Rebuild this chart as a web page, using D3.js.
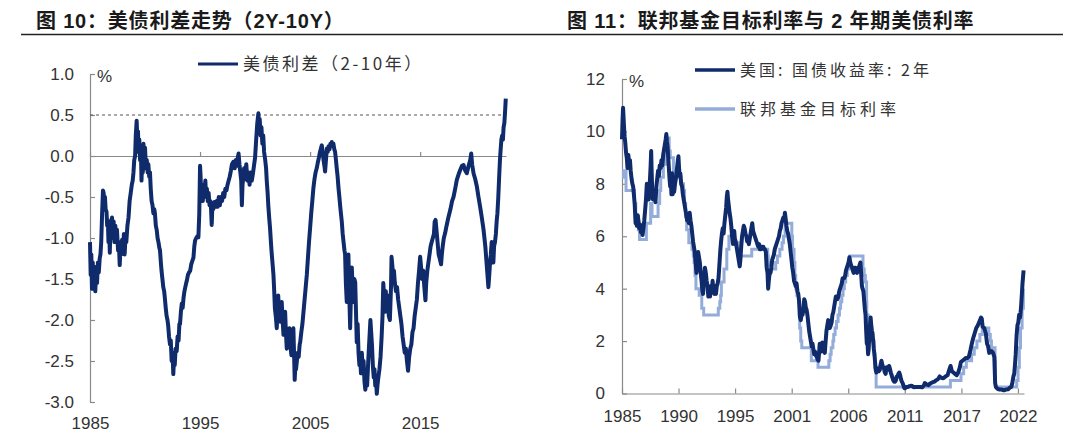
<!DOCTYPE html>
<html>
<head>
<meta charset="utf-8">
<script src="https://cdn.jsdelivr.net/npm/d3@7"></script>
<style>
  body { margin: 0; background: #fff; }
  text { font-family: "Liberation Sans", Arial, "Noto Sans CJK SC", sans-serif; }
</style>
</head>
<body>
<div id="chart"></div>
<script>
// ---- data ----
const leftTitle = "图 10：美债利差走势（2Y-10Y）";
const rightTitle = "图 11：联邦基金目标利率与 2 年期美债利率";
const spreadName = "美债利差（2-10年）";
const yieldName = "美国: 国债收益率: 2年";
const fedName = "联邦基金目标利率";

const leftYTicks = [-3.0, -2.5, -2.0, -1.5, -1.0, -0.5, 0.0, 0.5, 1.0];
const leftXTicks = [1985, 1995, 2005, 2015];
const rightYTicks = [0, 2, 4, 6, 8, 10, 12];
const rightXTickYears = [1985, 1990.33, 1995.66, 2001, 2006.33, 2011.66, 2017, 2022.33];
const rightXTickLabels = ["1985", "1990", "1995", "2001", "2006", "2011", "2017", "2022"];

// 2Y minus 10Y spread, [year, %]
const spread = [
  [1985.00,-1.05],[1985.06,-1.45],[1985.12,-1.20],[1985.18,-1.62],[1985.25,-1.30],[1985.32,-1.58],
  [1985.40,-1.35],[1985.48,-1.65],[1985.56,-1.40],[1985.64,-1.55],[1985.72,-1.30],[1985.80,-1.42],
  [1985.88,-1.25],[1985.95,-1.20],[1986.02,-1.05],[1986.10,-0.70],[1986.18,-0.42],[1986.24,-0.45],
  [1986.30,-0.55],[1986.36,-0.50],[1986.42,-0.65],[1986.50,-0.68],[1986.56,-0.85],[1986.62,-0.78],
  [1986.68,-1.05],[1986.74,-0.85],[1986.80,-1.18],[1986.86,-0.85],[1986.92,-0.95],[1987.00,-0.75],
  [1987.08,-1.00],[1987.15,-0.80],[1987.22,-1.05],[1987.30,-0.85],[1987.38,-1.00],[1987.45,-0.90],
  [1987.55,-1.15],[1987.62,-1.05],[1987.70,-1.33],[1987.78,-1.10],[1987.85,-1.20],[1987.92,-1.02],
  [1988.00,-1.15],[1988.08,-0.95],[1988.15,-1.20],[1988.22,-1.00],[1988.30,-1.05],[1988.40,-0.85],
  [1988.50,-0.75],[1988.60,-0.55],[1988.70,-0.45],[1988.80,-0.35],[1988.88,-0.30],[1988.95,-0.20],
  [1989.02,-0.05],[1989.10,0.00],[1989.16,0.25],[1989.24,0.43],[1989.30,0.20],[1989.36,0.30],
  [1989.42,0.05],[1989.48,0.20],[1989.55,-0.05],[1989.62,0.12],[1989.68,-0.30],[1989.74,0.00],
  [1989.80,-0.20],[1989.86,0.15],[1989.92,-0.10],[1990.00,0.10],[1990.08,-0.15],[1990.16,-0.05],
  [1990.24,-0.20],[1990.30,-0.10],[1990.38,-0.25],[1990.45,-0.20],[1990.52,-0.40],[1990.60,-0.55],
  [1990.68,-0.60],[1990.76,-0.70],[1990.84,-0.65],[1990.90,-0.70],[1990.98,-0.85],[1991.06,-0.90],
  [1991.14,-1.00],[1991.22,-1.05],[1991.30,-1.12],[1991.36,-1.15],[1991.44,-1.30],[1991.50,-1.40],
  [1991.58,-1.50],[1991.66,-1.60],[1991.74,-1.65],[1991.80,-1.73],[1991.88,-1.85],[1991.96,-1.95],
  [1992.04,-2.00],[1992.10,-2.06],[1992.18,-2.20],[1992.27,-2.30],[1992.34,-2.25],[1992.42,-2.50],
  [1992.50,-2.40],[1992.57,-2.66],[1992.64,-2.45],[1992.70,-2.55],[1992.78,-2.35],[1992.88,-2.38],
  [1992.96,-2.20],[1993.05,-2.25],[1993.12,-2.05],[1993.18,-2.05],[1993.26,-1.90],[1993.34,-1.80],
  [1993.42,-1.85],[1993.50,-1.73],[1993.58,-1.65],[1993.66,-1.60],[1993.74,-1.55],[1993.80,-1.52],
  [1993.90,-1.45],[1994.00,-1.42],[1994.10,-1.40],[1994.20,-1.32],[1994.30,-1.28],[1994.40,-1.24],
  [1994.48,-1.10],[1994.55,-1.03],[1994.65,-1.00],[1994.75,-0.98],[1994.85,-0.99],[1994.93,-0.70],
  [1995.00,-0.12],[1995.05,-0.25],[1995.10,-0.50],[1995.18,-0.40],[1995.25,-0.55],[1995.32,-0.35],
  [1995.40,-0.45],[1995.48,-0.30],[1995.55,-0.50],[1995.62,-0.40],[1995.70,-0.55],[1995.78,-0.45],
  [1995.86,-0.60],[1995.94,-0.55],[1996.00,-0.65],[1996.06,-0.84],[1996.12,-0.60],[1996.20,-0.65],
  [1996.30,-0.56],[1996.40,-0.62],[1996.50,-0.55],[1996.60,-0.62],[1996.70,-0.50],[1996.80,-0.60],
  [1996.90,-0.50],[1997.00,-0.55],[1997.10,-0.45],[1997.20,-0.50],[1997.30,-0.40],[1997.40,-0.42],
  [1997.50,-0.35],[1997.60,-0.30],[1997.70,-0.25],[1997.80,-0.18],[1997.90,-0.10],[1998.03,-0.07],
  [1998.15,-0.15],[1998.25,-0.05],[1998.35,-0.12],[1998.43,-0.02],[1998.50,0.03],[1998.58,-0.10],
  [1998.66,-0.20],[1998.74,-0.30],[1998.80,-0.60],[1998.86,-0.35],[1998.94,-0.25],[1999.00,-0.15],
  [1999.10,-0.28],[1999.20,-0.10],[1999.30,-0.30],[1999.40,-0.20],[1999.50,-0.35],[1999.60,-0.20],
  [1999.70,-0.30],[1999.80,-0.22],[1999.90,-0.12],[2000.00,-0.02],[2000.10,0.20],[2000.20,0.40],
  [2000.30,0.52],[2000.36,0.35],[2000.42,0.45],[2000.50,0.25],[2000.58,0.35],[2000.66,0.15],
  [2000.74,0.25],[2000.82,0.05],[2000.92,-0.05],[2001.00,-0.15],[2001.06,-0.30],[2001.14,-0.45],
  [2001.20,-0.60],[2001.28,-0.75],[2001.36,-0.88],[2001.44,-1.05],[2001.50,-1.17],[2001.58,-1.30],
  [2001.67,-1.45],[2001.74,-1.65],[2001.80,-1.86],[2001.88,-1.95],[2001.97,-2.10],[2002.04,-1.85],
  [2002.10,-1.70],[2002.18,-1.90],[2002.27,-2.02],[2002.35,-1.85],[2002.42,-1.78],[2002.50,-2.00],
  [2002.58,-2.18],[2002.66,-2.05],[2002.73,-1.90],[2002.80,-2.15],[2002.88,-2.35],[2002.96,-2.20],
  [2003.05,-2.25],[2003.12,-2.10],[2003.20,-2.30],[2003.30,-2.43],[2003.40,-2.25],[2003.48,-2.10],
  [2003.55,-2.45],[2003.60,-2.73],[2003.66,-2.55],[2003.72,-2.60],[2003.79,-2.51],[2003.88,-2.40],
  [2003.96,-2.45],[2004.05,-2.30],[2004.10,-2.27],[2004.20,-2.15],[2004.30,-2.05],[2004.40,-1.90],
  [2004.50,-1.75],[2004.60,-1.60],[2004.70,-1.45],[2004.80,-1.25],[2004.90,-1.05],[2005.00,-0.88],
  [2005.10,-0.70],[2005.20,-0.55],[2005.30,-0.39],[2005.40,-0.28],[2005.50,-0.20],[2005.60,-0.15],
  [2005.70,-0.08],[2005.80,-0.02],[2005.90,0.05],[2006.00,0.10],[2006.06,0.13],[2006.14,0.05],
  [2006.22,-0.05],[2006.30,-0.12],[2006.36,-0.19],[2006.44,-0.05],[2006.52,0.09],[2006.60,0.05],
  [2006.68,0.12],[2006.76,0.08],[2006.84,0.15],[2006.90,0.12],[2006.97,0.17],[2007.05,0.12],
  [2007.12,0.15],[2007.20,0.08],[2007.27,0.05],[2007.35,-0.05],[2007.42,-0.15],[2007.50,-0.25],
  [2007.58,-0.39],[2007.66,-0.50],[2007.74,-0.62],[2007.80,-0.70],[2007.88,-0.80],[2007.96,-0.95],
  [2008.04,-1.05],[2008.12,-1.15],[2008.18,-1.20],[2008.25,-1.55],[2008.33,-1.78],[2008.40,-1.45],
  [2008.48,-1.20],[2008.55,-1.65],[2008.64,-2.10],[2008.70,-1.75],[2008.79,-1.36],[2008.86,-1.60],
  [2008.94,-1.78],[2009.02,-1.50],[2009.10,-1.54],[2009.17,-1.90],[2009.24,-2.27],[2009.32,-2.05],
  [2009.40,-2.40],[2009.48,-2.55],[2009.55,-2.43],[2009.62,-2.65],[2009.70,-2.40],[2009.78,-2.60],
  [2009.86,-2.50],[2009.94,-2.75],[2010.02,-2.85],[2010.10,-2.70],[2010.18,-2.80],[2010.25,-2.60],
  [2010.32,-2.40],[2010.40,-2.20],[2010.48,-2.00],[2010.55,-2.15],[2010.62,-2.30],[2010.70,-2.55],
  [2010.78,-2.70],[2010.85,-2.60],[2010.92,-2.80],[2011.00,-2.75],[2011.06,-2.90],[2011.12,-2.80],
  [2011.20,-2.70],[2011.30,-2.60],[2011.40,-2.45],[2011.50,-2.20],[2011.58,-1.95],[2011.65,-1.55],
  [2011.72,-1.70],[2011.80,-1.90],[2011.88,-1.65],[2011.95,-1.85],[2012.05,-1.70],[2012.15,-1.95],
  [2012.25,-2.00],[2012.35,-1.60],[2012.40,-1.23],[2012.48,-1.35],[2012.55,-1.50],[2012.62,-1.40],
  [2012.70,-1.55],[2012.80,-1.65],[2012.90,-1.60],[2013.00,-1.75],[2013.10,-1.85],[2013.20,-1.95],
  [2013.30,-2.05],[2013.40,-2.20],[2013.50,-2.30],[2013.60,-2.40],[2013.70,-2.35],[2013.80,-2.50],
  [2013.90,-2.62],[2014.00,-2.45],[2014.10,-2.35],[2014.20,-2.30],[2014.30,-2.15],[2014.40,-2.10],
  [2014.50,-1.95],[2014.60,-1.85],[2014.70,-1.75],[2014.80,-1.55],[2014.90,-1.40],[2015.00,-1.23],
  [2015.08,-1.35],[2015.18,-1.50],[2015.28,-1.40],[2015.38,-1.60],[2015.48,-1.76],[2015.55,-1.55],
  [2015.65,-1.40],[2015.75,-1.30],[2015.85,-1.20],[2015.95,-1.10],[2016.05,-1.05],[2016.15,-1.00],
  [2016.25,-0.95],[2016.32,-0.80],[2016.40,-0.78],[2016.48,-0.90],[2016.58,-1.05],[2016.68,-1.20],
  [2016.78,-1.25],[2016.90,-1.32],[2016.97,-1.20],[2017.05,-1.10],[2017.15,-1.00],[2017.27,-0.94],
  [2017.40,-0.85],[2017.58,-0.74],[2017.75,-0.65],[2017.90,-0.55],[2018.03,-0.50],[2018.18,-0.40],
  [2018.33,-0.29],[2018.50,-0.22],[2018.64,-0.17],[2018.80,-0.12],[2018.94,-0.11],[2019.10,-0.18],
  [2019.24,-0.21],[2019.40,-0.12],[2019.55,-0.05],[2019.64,0.03],[2019.72,-0.10],[2019.85,-0.21],
  [2020.00,-0.28],[2020.15,-0.37],[2020.30,-0.50],[2020.45,-0.62],[2020.60,-0.75],[2020.76,-0.90],
  [2020.92,-1.10],[2021.06,-1.35],[2021.20,-1.60],[2021.28,-1.45],[2021.35,-1.30],[2021.42,-1.20],
  [2021.50,-1.05],[2021.58,-1.15],[2021.65,-1.30],[2021.72,-1.10],[2021.80,-1.05],[2021.88,-0.95],
  [2021.95,-0.80],[2022.02,-0.70],[2022.10,-0.50],[2022.18,-0.25],[2022.25,-0.05],[2022.30,0.05],
  [2022.38,0.20],[2022.45,0.25],[2022.52,0.20],[2022.58,0.35],[2022.65,0.40],[2022.72,0.55],
  [2022.78,0.70]
];

// US 2Y Treasury yield, [year, %]
const yield2y = [
  [1985.00,9.70],[1985.05,10.40],[1985.10,10.90],[1985.15,10.50],[1985.20,10.10],[1985.25,9.80],
  [1985.30,9.60],[1985.38,9.20],[1985.45,9.00],[1985.52,8.60],[1985.60,9.10],[1985.68,8.70],
  [1985.75,8.90],[1985.82,8.50],[1985.90,8.20],[1985.98,8.00],[1986.05,7.90],[1986.12,7.60],
  [1986.20,7.20],[1986.28,6.50],[1986.34,6.70],[1986.40,6.40],[1986.48,6.80],[1986.55,6.60],
  [1986.62,6.30],[1986.70,6.45],[1986.78,6.15],[1986.86,6.30],[1986.94,6.05],[1987.02,6.30],
  [1987.10,6.60],[1987.18,7.00],[1987.26,7.40],[1987.34,8.00],[1987.40,7.60],[1987.46,7.80],
  [1987.52,7.40],[1987.58,7.70],[1987.64,8.20],[1987.70,8.70],[1987.75,9.25],[1987.80,8.40],
  [1987.86,7.60],[1987.92,7.40],[1988.00,7.60],[1988.08,7.75],[1988.16,7.30],[1988.24,7.90],
  [1988.32,8.20],[1988.40,8.50],[1988.48,8.30],[1988.56,8.70],[1988.64,8.60],[1988.72,8.90],
  [1988.80,8.70],[1988.88,9.10],[1988.96,9.30],[1989.04,9.50],[1989.12,9.70],[1989.18,9.90],
  [1989.24,9.60],[1989.30,9.40],[1989.36,9.00],[1989.42,8.60],[1989.48,8.20],[1989.54,7.90],
  [1989.60,8.30],[1989.66,7.60],[1989.72,8.40],[1989.78,7.60],[1989.84,7.90],[1989.92,7.70],
  [1990.00,8.00],[1990.08,8.20],[1990.16,8.50],[1990.24,8.80],[1990.32,9.05],[1990.38,8.60],
  [1990.44,8.30],[1990.50,8.40],[1990.58,8.00],[1990.66,7.90],[1990.74,7.60],[1990.82,7.40],
  [1990.90,7.20],[1990.98,7.00],[1991.06,6.80],[1991.14,6.60],[1991.22,6.80],[1991.30,6.50],
  [1991.38,6.90],[1991.46,6.60],[1991.54,6.40],[1991.62,6.10],[1991.70,5.80],[1991.78,5.60],
  [1991.86,5.40],[1991.94,5.00],[1992.02,4.60],[1992.10,5.20],[1992.18,5.40],[1992.26,5.20],
  [1992.34,5.00],[1992.42,4.60],[1992.50,4.30],[1992.58,3.90],[1992.64,3.80],[1992.70,4.20],
  [1992.76,4.50],[1992.82,4.80],[1992.90,4.60],[1992.98,4.30],[1993.06,4.10],[1993.14,3.70],
  [1993.22,4.00],[1993.30,3.70],[1993.38,4.10],[1993.46,3.90],[1993.54,4.30],[1993.62,3.90],
  [1993.70,3.80],[1993.78,4.10],[1993.86,3.80],[1993.94,4.10],[1994.02,4.20],[1994.10,4.40],
  [1994.18,4.90],[1994.26,5.40],[1994.34,5.80],[1994.42,6.10],[1994.50,6.30],[1994.58,6.10],
  [1994.66,6.50],[1994.74,6.80],[1994.82,7.10],[1994.88,7.50],[1994.94,7.70],[1995.00,7.40],
  [1995.06,7.20],[1995.14,6.90],[1995.22,6.70],[1995.30,6.40],[1995.38,6.00],[1995.46,5.70],
  [1995.52,5.90],[1995.58,6.20],[1995.64,5.90],[1995.72,5.80],[1995.80,5.60],[1995.88,5.40],
  [1995.96,5.20],[1996.04,5.00],[1996.10,4.85],[1996.16,5.10],[1996.24,5.60],[1996.32,6.00],
  [1996.40,6.20],[1996.48,6.40],[1996.56,6.30],[1996.64,6.10],[1996.72,6.00],[1996.80,5.80],
  [1996.88,5.90],[1996.96,5.70],[1997.04,5.90],[1997.12,6.10],[1997.20,6.30],[1997.28,6.50],
  [1997.36,6.20],[1997.44,6.10],[1997.52,6.00],[1997.60,5.90],[1997.68,5.80],[1997.76,5.70],
  [1997.84,5.60],[1997.92,5.70],[1998.00,5.50],[1998.08,5.50],[1998.16,5.60],[1998.24,5.60],
  [1998.32,5.60],[1998.40,5.50],[1998.48,5.50],[1998.56,5.40],[1998.64,4.80],[1998.72,4.60],
  [1998.78,4.00],[1998.84,4.30],[1998.92,4.60],[1999.00,4.60],[1999.08,4.80],[1999.16,5.10],
  [1999.24,5.20],[1999.32,5.30],[1999.40,5.50],[1999.48,5.60],[1999.56,5.70],[1999.64,5.80],
  [1999.72,5.90],[1999.80,6.00],[1999.88,6.20],[1999.96,6.30],[2000.04,6.50],[2000.12,6.60],
  [2000.20,6.70],[2000.28,6.60],[2000.36,6.90],[2000.42,6.70],[2000.50,6.40],[2000.58,6.20],
  [2000.66,6.10],[2000.74,5.90],[2000.82,5.70],[2000.90,5.40],[2000.98,5.10],[2001.06,4.80],
  [2001.14,4.60],[2001.22,4.30],[2001.30,4.20],[2001.38,4.10],[2001.46,4.20],[2001.54,3.90],
  [2001.62,3.80],[2001.70,3.50],[2001.78,2.90],[2001.86,2.80],[2001.94,3.10],[2002.02,3.00],
  [2002.10,3.20],[2002.18,3.60],[2002.26,3.50],[2002.32,3.30],[2002.40,3.20],[2002.48,3.00],
  [2002.56,2.70],[2002.64,2.40],[2002.72,2.20],[2002.80,2.00],[2002.88,1.80],[2002.96,1.90],
  [2003.04,1.70],[2003.12,1.50],[2003.20,1.60],[2003.28,1.45],[2003.36,1.40],[2003.44,1.30],
  [2003.52,1.25],[2003.58,1.55],[2003.64,1.90],[2003.72,1.80],[2003.80,1.60],[2003.88,1.95],
  [2003.96,1.80],[2004.04,1.70],[2004.12,1.55],[2004.20,2.00],[2004.28,2.40],[2004.36,2.60],
  [2004.44,2.80],[2004.52,2.60],[2004.60,2.50],[2004.68,2.60],[2004.76,2.70],[2004.84,3.00],
  [2004.92,3.10],[2005.00,3.30],[2005.08,3.50],[2005.16,3.70],[2005.24,3.70],[2005.32,3.60],
  [2005.40,3.70],[2005.48,3.90],[2005.56,4.00],[2005.64,4.10],[2005.72,4.20],[2005.80,4.40],
  [2005.88,4.40],[2005.96,4.40],[2006.04,4.50],[2006.12,4.70],[2006.20,4.80],[2006.28,4.90],
  [2006.36,5.00],[2006.44,5.20],[2006.52,5.00],[2006.60,4.90],[2006.68,4.80],[2006.76,4.70],
  [2006.84,4.60],[2006.92,4.80],[2007.00,4.80],[2007.08,4.70],[2007.16,4.60],[2007.24,4.70],
  [2007.32,4.80],[2007.40,4.90],[2007.48,5.00],[2007.56,4.50],[2007.62,4.10],[2007.68,4.00],
  [2007.76,3.90],[2007.84,3.50],[2007.90,3.20],[2007.96,3.00],[2008.02,2.40],[2008.08,1.90],
  [2008.14,2.00],[2008.20,1.50],[2008.26,1.70],[2008.32,2.30],[2008.38,2.60],[2008.44,2.90],
  [2008.50,2.60],[2008.56,2.40],[2008.62,2.30],[2008.68,2.00],[2008.74,1.70],[2008.80,1.50],
  [2008.86,1.20],[2008.92,0.90],[2008.98,0.80],[2009.06,0.90],[2009.14,0.95],[2009.22,0.85],
  [2009.30,0.90],[2009.38,1.10],[2009.46,1.25],[2009.54,1.10],[2009.62,1.00],[2009.70,0.95],
  [2009.78,0.80],[2009.86,0.75],[2009.94,1.00],[2010.02,0.90],[2010.10,0.95],[2010.18,1.05],
  [2010.26,0.95],[2010.34,0.80],[2010.42,0.70],[2010.50,0.60],[2010.58,0.50],[2010.66,0.45],
  [2010.74,0.45],[2010.82,0.50],[2010.90,0.65],[2010.98,0.65],[2011.06,0.75],[2011.14,0.80],
  [2011.22,0.70],[2011.30,0.55],[2011.38,0.45],[2011.46,0.40],[2011.54,0.30],[2011.62,0.20],
  [2011.70,0.20],[2011.78,0.25],[2011.86,0.25],[2011.94,0.25],[2012.10,0.28],[2012.30,0.30],
  [2012.50,0.24],[2012.70,0.25],[2012.90,0.25],[2013.10,0.25],[2013.30,0.24],[2013.45,0.30],
  [2013.55,0.40],[2013.70,0.35],[2013.90,0.32],[2014.05,0.38],[2014.25,0.42],[2014.45,0.45],
  [2014.60,0.50],[2014.80,0.55],[2014.95,0.65],[2015.10,0.60],[2015.30,0.58],[2015.50,0.65],
  [2015.70,0.70],[2015.85,0.90],[2015.98,1.05],[2016.10,0.85],[2016.25,0.80],[2016.40,0.75],
  [2016.55,0.70],[2016.70,0.80],[2016.85,1.00],[2016.95,1.20],[2017.10,1.25],[2017.25,1.30],
  [2017.40,1.35],[2017.55,1.35],[2017.70,1.40],[2017.85,1.65],[2017.98,1.90],[2018.10,2.10],
  [2018.25,2.30],[2018.40,2.50],[2018.55,2.60],[2018.70,2.75],[2018.85,2.90],[2018.92,2.85],
  [2019.00,2.55],[2019.15,2.50],[2019.30,2.30],[2019.42,1.90],[2019.52,1.80],[2019.62,1.55],
  [2019.72,1.60],[2019.85,1.62],[2019.98,1.55],[2020.10,1.40],[2020.18,0.40],[2020.25,0.25],
  [2020.40,0.18],[2020.60,0.15],[2020.80,0.15],[2021.00,0.12],[2021.20,0.15],[2021.40,0.16],
  [2021.55,0.22],[2021.70,0.25],[2021.80,0.40],[2021.90,0.65],[2021.98,0.75],[2022.05,1.10],
  [2022.12,1.50],[2022.20,2.20],[2022.28,2.60],[2022.36,2.70],[2022.44,3.00],[2022.52,2.90],
  [2022.58,3.10],[2022.64,3.40],[2022.70,3.80],[2022.76,4.20],[2022.82,4.50],[2022.86,4.70]
];

// Fed funds target, change dates [year, %]
const fedTarget = [
  [1985.00,8.25],[1985.15,8.50],[1985.38,7.75],[1986.18,7.25],[1986.30,6.75],[1986.55,6.25],
  [1986.65,5.88],[1987.30,6.50],[1987.70,7.25],[1987.83,6.75],[1988.40,7.25],[1988.55,7.75],
  [1988.65,8.25],[1988.90,8.75],[1989.10,9.75],[1989.45,9.25],[1989.55,9.00],[1989.85,8.50],
  [1989.95,8.25],[1990.55,8.00],[1990.80,7.75],[1990.90,7.25],[1991.00,6.75],[1991.10,6.25],
  [1991.30,5.75],[1991.60,5.50],[1991.72,5.25],[1991.80,5.00],[1991.88,4.50],[1991.97,4.00],
  [1992.28,3.75],[1992.52,3.25],[1992.70,3.00],[1994.08,3.25],[1994.22,3.50],[1994.30,3.75],
  [1994.37,4.25],[1994.62,4.75],[1994.88,5.50],[1995.08,6.00],[1995.52,5.75],[1995.97,5.50],
  [1996.08,5.25],[1997.23,5.50],[1998.74,5.25],[1998.79,5.00],[1998.88,4.75],[1999.49,5.00],
  [1999.65,5.25],[1999.88,5.50],[2000.09,5.75],[2000.22,6.00],[2000.38,6.50],[2001.01,6.00],
  [2001.08,5.50],[2001.22,5.00],[2001.30,4.50],[2001.38,4.00],[2001.49,3.75],[2001.64,3.50],
  [2001.71,3.00],[2001.75,2.50],[2001.85,2.00],[2001.95,1.75],[2002.85,1.25],[2003.48,1.00],
  [2004.50,1.25],[2004.62,1.50],[2004.72,1.75],[2004.88,2.00],[2004.96,2.25],[2005.09,2.50],
  [2005.22,2.75],[2005.37,3.00],[2005.50,3.25],[2005.61,3.50],[2005.72,3.75],[2005.84,4.00],
  [2005.96,4.25],[2006.09,4.50],[2006.24,4.75],[2006.37,5.00],[2006.49,5.25],[2007.72,4.75],
  [2007.83,4.50],[2007.94,4.25],[2008.06,3.50],[2008.08,3.00],[2008.21,2.25],[2008.33,2.00],
  [2008.77,1.50],[2008.83,1.00],[2008.96,0.25],[2015.96,0.50],[2016.96,0.75],[2017.21,1.00],
  [2017.46,1.25],[2017.96,1.50],[2018.21,1.75],[2018.46,2.00],[2018.74,2.25],[2018.97,2.50],
  [2019.58,2.25],[2019.72,2.00],[2019.83,1.75],[2020.17,1.25],[2020.21,0.25],[2022.21,0.50],
  [2022.34,1.00],[2022.46,1.75],[2022.57,2.50],[2022.72,3.25],[2022.84,4.00],[2022.87,4.00]
];

// ---- layout ----
const dark = "#0f2b6b";
const light = "#93acd9";
const axisColor = "#8a8a8a";
const labelColor = "#333333";

const svg = d3
  .select("#chart")
  .append("svg")
  .attr("width", 1080)
  .attr("height", 443);

function drawTitle(x, lineX1, lineX2, str) {
  svg
    .append("text")
    .attr("x", x)
    .attr("y", 28)
    .attr("font-size", "20px")
    .attr("font-weight", "bold")
    .attr("letter-spacing", "0.8px")
    .attr("fill", "#1a1a1a")
    .text(str);
  svg
    .append("line")
    .attr("x1", lineX1)
    .attr("x2", lineX2)
    .attr("y1", 34.5)
    .attr("y2", 34.5)
    .attr("stroke", "#222")
    .attr("stroke-width", 1.5);
}

drawTitle(36, 21, 543, leftTitle);
drawTitle(567, 543, 1063, rightTitle);

function styleAxis(g) {
  g.select(".domain").attr("stroke", axisColor).attr("stroke-width", 1.2);
  g.selectAll(".tick line").attr("stroke", axisColor).attr("stroke-width", 1.2);
  g.selectAll(".tick text")
    .attr("fill", labelColor)
    .attr("font-size", "17px")
    .attr("font-family", "'Liberation Sans', Arial, sans-serif");
}

function legendItem(x, y, color, width, str, size, spacing) {
  svg
    .append("line")
    .attr("x1", x)
    .attr("x2", x + 40)
    .attr("y1", y)
    .attr("y2", y)
    .attr("stroke", color)
    .attr("stroke-width", width);
  svg
    .append("text")
    .attr("x", x + 45)
    .attr("y", y)
    .attr("dy", "0.35em")
    .attr("font-size", size)
    .attr("letter-spacing", spacing)
    .attr("fill", labelColor)
    .style("font-family", "'Noto Sans CJK SC', sans-serif")
    .text(str);
}

// ---- left chart: spread ----
const xL = d3.scaleLinear().domain([1985, 2022.8]).range([90, 506]);
const yL = d3.scaleLinear().domain([-3, 1]).range([402, 74]);

const yAxisL = d3
  .axisLeft(yL)
  .tickValues(leftYTicks)
  .tickSize(-5)
  .tickSizeOuter(0)
  .tickPadding(16)
  .tickFormat((d) => d.toFixed(1));

svg.append("g").attr("transform", "translate(90,0)").call(yAxisL).call(styleAxis);

svg
  .append("line")
  .attr("x1", xL.range()[0])
  .attr("x2", xL.range()[1])
  .attr("y1", yL(0.5))
  .attr("y2", yL(0.5))
  .attr("stroke", "#555")
  .attr("stroke-width", 1)
  .attr("stroke-dasharray", "3,3");

const zeroAxis = d3
  .axisBottom(xL)
  .tickValues(leftXTicks)
  .tickSize(-4)
  .tickSizeOuter(0)
  .tickFormat("");

svg
  .append("g")
  .attr("transform", "translate(0," + yL(0) + ")")
  .call(zeroAxis)
  .call(styleAxis);

const xLabelsL = d3
  .axisBottom(xL)
  .tickValues(leftXTicks)
  .tickSize(0)
  .tickPadding(15)
  .tickFormat(d3.format("d"));

svg
  .append("g")
  .attr("transform", "translate(0," + yL(-3) + ")")
  .call(xLabelsL)
  .call(styleAxis)
  .call((g) => g.select(".domain").remove());

svg
  .append("text")
  .attr("x", 97)
  .attr("y", yL(1) + 2)
  .attr("dy", "0.35em")
  .attr("font-size", "17px")
  .attr("fill", labelColor)
  .text("%");

const lineL = d3
  .line()
  .x((d) => xL(d[0]))
  .y((d) => yL(d[1]));

svg
  .append("path")
  .datum(spread)
  .attr("d", lineL)
  .attr("fill", "none")
  .attr("stroke", dark)
  .attr("stroke-width", 4)
  .attr("stroke-linejoin", "round");

legendItem(198, 64, dark, 3, spreadName, "17px", "2.5px");

// ---- right chart: 2Y yield vs fed target ----
const xR = d3.scaleLinear().domain([1985, 2022.9]).range([622, 1024]);
const yR = d3.scaleLinear().domain([0, 12]).range([393.5, 79]);

const yAxisR = d3
  .axisLeft(yR)
  .tickValues(rightYTicks)
  .tickSize(-5)
  .tickSizeOuter(0)
  .tickPadding(17)
  .tickFormat(d3.format("d"));

svg.append("g").attr("transform", "translate(622,0)").call(yAxisR).call(styleAxis);

const xAxisR = d3
  .axisBottom(xR)
  .tickValues(rightXTickYears)
  .tickSize(-5)
  .tickSizeOuter(0)
  .tickPadding(16)
  .tickFormat((d, i) => rightXTickLabels[i]);

svg
  .append("g")
  .attr("transform", "translate(0," + yR(0) + ")")
  .call(xAxisR)
  .call(styleAxis);

svg
  .append("text")
  .attr("x", 629)
  .attr("y", yR(12) + 2)
  .attr("dy", "0.35em")
  .attr("font-size", "17px")
  .attr("fill", labelColor)
  .text("%");

const fedLine = d3
  .line()
  .curve(d3.curveStepAfter)
  .x((d) => xR(d[0]))
  .y((d) => yR(d[1]));

const yieldLine = d3
  .line()
  .x((d) => xR(d[0]))
  .y((d) => yR(d[1]));

svg
  .append("path")
  .datum(fedTarget)
  .attr("d", fedLine)
  .attr("fill", "none")
  .attr("stroke", light)
  .attr("stroke-width", 3);

svg
  .append("path")
  .datum(yield2y)
  .attr("d", yieldLine)
  .attr("fill", "none")
  .attr("stroke", dark)
  .attr("stroke-width", 4)
  .attr("stroke-linejoin", "round");

legendItem(695, 70, dark, 3.5, yieldName, "16px", "3px");
legendItem(695, 109, light, 3.5, fedName, "16px", "4px");
</script>
</body>
</html>
